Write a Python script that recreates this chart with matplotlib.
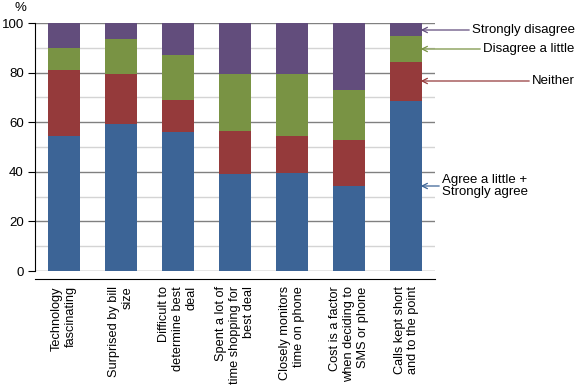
import numpy as np
import matplotlib.pyplot as plt
from matplotlib.ticker import MultipleLocator

plt.rcParams['font.family'] = ['Liberation Sans', 'DejaVu Sans']

categories = ['Technology\nfascinating', 'Surprised by bill\nsize', 'Difficult to\ndetermine best\ndeal',
              'Spent a lot of\ntime shopping for\nbest deal', 'Closely monitors\ntime on phone',
              'Cost is a factor\nwhen deciding to\nSMS or phone', 'Calls kept short\nand to the point']
agree = [54.6, 59.3, 56.0, 39.2, 39.5, 34.4, 68.5]
neither = [26.4, 20.1, 13.0, 17.2, 14.9, 18.4, 15.8]
disagree_little = [9.0, 14.1, 18.1, 23.0, 25.0, 20.2, 10.5]
strongly_disagree = [10.0, 6.5, 12.9, 20.6, 20.6, 27.0, 5.2]

series = [('Agree a little +\nStrongly agree', agree, '#3c6496'),
          ('Neither', neither, '#953a3b'),
          ('Disagree a little', disagree_little, '#799344'),
          ('Strongly disagree', strongly_disagree, '#624d7c')]

fs = 9.5

fig = plt.figure(figsize=(5.81, 3.89), dpi=100)
ax = fig.add_axes([35 / 581, 1 - 271 / 389, 400 / 581, 248 / 389])

x = np.arange(len(categories))
bottom = np.zeros(len(categories))
for name, vals, col in series:
    ax.bar(x, vals, 0.56, bottom=bottom, color=col, zorder=3)
    bottom += np.array(vals)

ax.set_xlim(-0.5, 6.5)
ax.set_ylim(0, 100)
ax.yaxis.set_major_locator(MultipleLocator(20))
ax.yaxis.set_minor_locator(MultipleLocator(10))
ax.grid(axis='y', which='major', color='#808080', lw=1, zorder=0)
ax.grid(axis='y', which='minor', color='#d4d4d4', lw=1, zorder=0)
ax.tick_params(axis='y', which='major', length=5, color='black', labelsize=fs, pad=3)
ax.tick_params(axis='y', which='minor', length=0)
ax.tick_params(axis='x', length=0, pad=5)
for s in ['top', 'right']:
    ax.spines[s].set_visible(False)
ax.spines['bottom'].set_position(('outward', 6))
ax.spines['left'].set_bounds(0, 100)
ax.set_xticks(x)
ax.set_xticklabels(categories, rotation=90, fontsize=9.2, ha='center', va='top',
                   multialignment='right', linespacing=1.2)

fig.text(20 / 581, 1 - 8 / 389, '%', fontsize=fs, ha='center', va='center')

# labels at right with arrows pointing back at the last bar
label_pos = {'Strongly disagree': (472, 30), 'Disagree a little': (483, 49),
             'Neither': (532, 81), 'Agree a little +\nStrongly agree': (442, 186)}
for name, vals, col in series:
    tx, ty = label_pos[name]
    yv = (271 - ty) / 2.48
    ax.annotate(name, xy=(6.25, yv), xycoords='data',
                xytext=(tx / 581, 1 - ty / 389), textcoords='figure fraction',
                fontsize=fs, ha='left', va='center', annotation_clip=False, linespacing=1.05,
                arrowprops=dict(arrowstyle='->', color=col, lw=0.9, shrinkA=0, shrinkB=0))

fig.savefig('out.png', dpi=100)
